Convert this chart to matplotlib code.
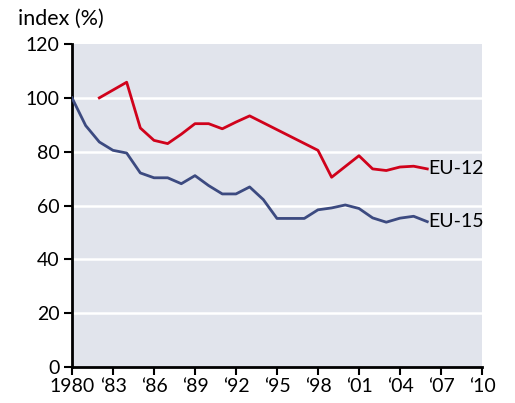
import matplotlib.pyplot as plt

years_15 = list(range(1980, 2007))
eu15 = [100, 89.7, 83.6, 80.5, 79.5, 72.1, 70.3, 70.3, 68.1, 71.1, 67.4, 64.3, 64.3,
        66.9, 62.2, 55.2, 55.2, 55.2, 58.4, 59.1, 60.2, 58.9, 55.4, 53.8, 55.3, 56.0, 54.0]

years_12 = [1982, 1984, 1985, 1986, 1987, 1988, 1989, 1990, 1991, 1992, 1993, 1998,
            1999, 2001, 2002, 2003, 2004, 2005, 2006]
eu12 = [100, 105.8, 88.8, 84.2, 83.0, 86.5, 90.4, 90.4, 88.5, 91.0, 93.3, 80.5,
        70.5, 78.5, 73.6, 73.0, 74.3, 74.6, 73.6]

xticks = list(range(1980, 2011, 3))
xlabels = ['1980', '‘83', '‘86', '‘89', '‘92', '‘95', '‘98', '‘01', '‘04', '‘07', '‘10']
yticks = [0, 20, 40, 60, 80, 100, 120]

plt.rcParams['font.family'] = ['Lato', 'DejaVu Sans']

fig = plt.figure(figsize=(5.15, 4.03), dpi=100)
ax = fig.add_axes([0.1398, 0.0893, 0.796, 0.8015])
ax.set_facecolor('#e1e4ec')

for y in yticks[1:-1]:
    ax.axhline(y, color='white', lw=1.8, zorder=1)

ax.plot(years_15, eu15, color='#3c4a80', lw=2, zorder=3)
ax.plot(years_12, eu12, color='#d0021b', lw=2, zorder=3)

ax.text(years_12[-1] + 0.1, eu12[-1], 'EU-12', fontsize=14, va='center', ha='left', zorder=4)
ax.text(years_15[-1] + 0.1, eu15[-1], 'EU-15', fontsize=14, va='center', ha='left', zorder=4)

ax.set_xlim(1980, 2010)
ax.set_ylim(0, 120)
ax.set_xticks(xticks)
ax.set_xticklabels(xlabels)
ax.set_yticks(yticks)
ax.tick_params(axis='both', direction='out', length=6, width=1.5, labelsize=14)
ax.tick_params(axis='y', pad=3)
ax.tick_params(axis='x', pad=2)

for side in ['top', 'right']:
    ax.spines[side].set_visible(False)
for side in ['left', 'bottom']:
    ax.spines[side].set_linewidth(2)

fig.text(18 / 515, 1 - 19 / 403, 'index (%)', fontsize=15.5, va='center', ha='left')

fig.savefig('out.png', dpi=100)
